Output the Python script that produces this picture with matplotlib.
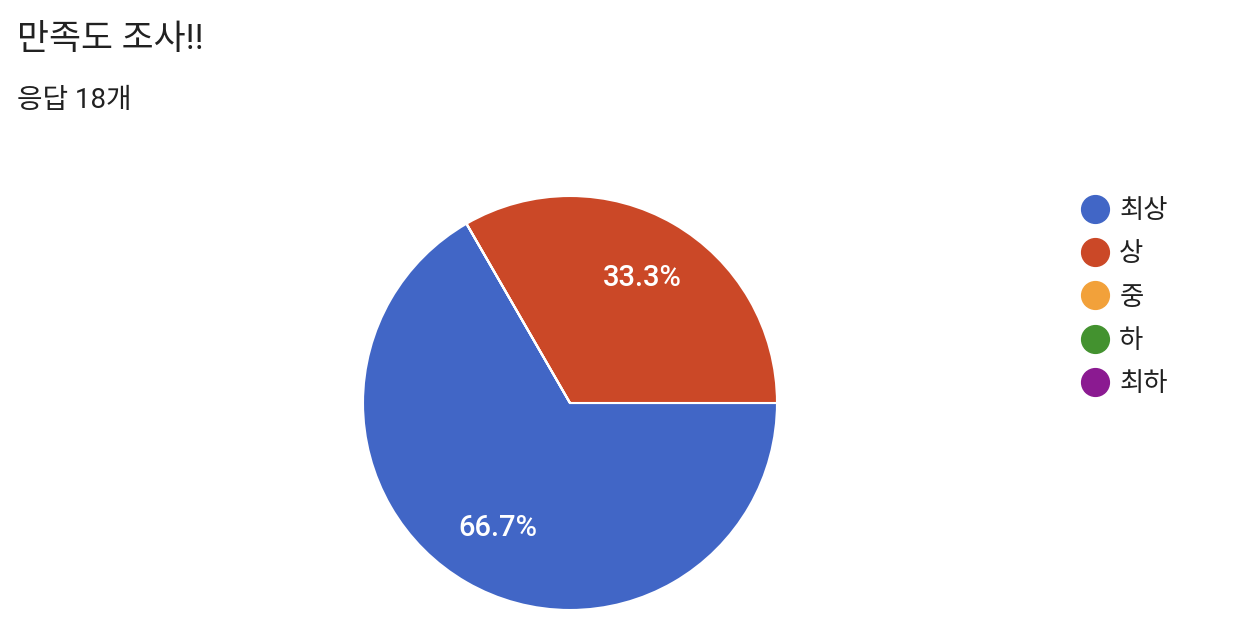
import matplotlib
matplotlib.use("Agg")
import matplotlib.pyplot as plt
from matplotlib.lines import Line2D

plt.rcParams['font.family'] = ['Roboto', 'Noto Sans CJK KR', 'DejaVu Sans']

title = "만족도 조사!!"
subtitle = "응답 18개"
labels = ["최상", "상", "중", "하", "최하"]
counts = [12, 6, 0, 0, 0]
colors = ["#4166C6", "#CB4827", "#F2A13A", "#43922F", "#8B1A91"]

W, H = 1250, 642
fig = plt.figure(figsize=(W / 100, H / 100), dpi=100)

# pie axes: centre (570, 403) px, radius ~207 px
r = 207
ax = fig.add_axes([(570 - r) / W, (H - 403 - r) / H, 2 * r / W, 2 * r / H])


def pct(p):
    return f"{p:.1f}%" if p > 0 else ""


wedges, texts, autotexts = ax.pie(
    counts, colors=colors, startangle=120, counterclock=True,
    autopct=pct, pctdistance=0.70,
    wedgeprops=dict(edgecolor="white", linewidth=1.5),
    textprops=dict(color="white", fontsize=21, fontweight="medium"),
)
ax.set_xlim(-1, 1)
ax.set_ylim(-1, 1)
ax.set_aspect("equal")
ax.axis("off")

fig.text(17 / W, 1 - 39 / H, title, fontsize=25, color="#212121", va="center", ha="left")
fig.text(17 / W, 1 - 101 / H, subtitle, fontsize=20, color="#212121", va="center", ha="left")

handles = [Line2D([], [], marker="o", linestyle="none", markersize=20,
                  markerfacecolor=c, markeredgecolor=c) for c in colors]
fig.legend(handles, labels, loc="upper left", bbox_to_anchor=(1081 / W, 1 - 199 / H),
           frameon=False, fontsize=19, labelspacing=0.73, handletextpad=0.4,
           handlelength=1.05, borderaxespad=0, borderpad=0, labelcolor="#212121")

fig.savefig("out.png", dpi=100)
